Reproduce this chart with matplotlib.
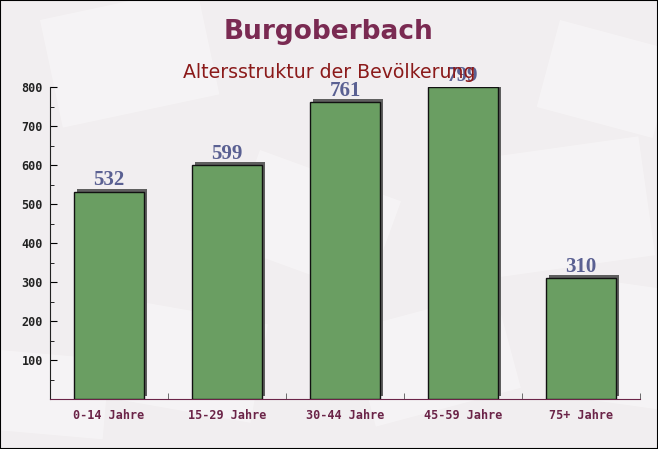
import matplotlib
matplotlib.use("Agg")
import matplotlib.pyplot as plt
import matplotlib.transforms as mtrans
from matplotlib.patches import Rectangle

categories = ["0-14 Jahre", "15-29 Jahre", "30-44 Jahre", "45-59 Jahre", "75+ Jahre"]
values = [532, 599, 761, 799, 310]
yticks = [100, 200, 300, 400, 500, 600, 700, 800]

fig = plt.figure(figsize=(6.58, 4.49), dpi=100)
fig.patch.set_facecolor("#f1eef0")

# faint background texture
bg = fig.add_axes([0, 0, 1, 1], zorder=-10)
bg.set_xlim(0, 658); bg.set_ylim(449, 0); bg.axis("off")
for (x, y, w, h, a) in [(40, 20, 160, 110, -12), (260, 150, 150, 100, 20), (470, 160, 170, 120, -8),
                        (130, 300, 140, 100, 10), (560, 20, 120, 90, 15), (350, 330, 150, 100, -15),
                        (0, 350, 110, 80, 5), (600, 280, 100, 120, 8)]:
    r = Rectangle((x, y), w, h, angle=a, facecolor="white", alpha=0.35, edgecolor="none")
    bg.add_patch(r)

ax = fig.add_axes([50/658, 1-399/449, 590/658, 312/449])
ax.set_facecolor("none")

x = list(range(len(categories)))
shadow = ax.transData + mtrans.ScaledTranslation(3/100, 3/100, fig.dpi_scale_trans)
ax.bar(x, values, width=0.6, color="#5f5f5f", edgecolor="none", transform=shadow, zorder=2)
ax.bar(x, values, width=0.6, color="#6a9e62", edgecolor="#111111", linewidth=1, zorder=3)

for xi, v in zip(x, values):
    ax.annotate(str(v), (xi, v), xytext=(0, 1), textcoords="offset points", ha="center", va="bottom",
                fontsize=15, fontweight="bold", family="Liberation Serif", color="#5a6092", zorder=4)

ax.set_xlim(-0.5, len(categories) - 0.5)
ax.set_ylim(0, 800)
ax.set_yticks(yticks)
ax.set_yticks(list(range(50, 800, 100)), minor=True)
ax.set_xticks([i + 0.5 for i in range(len(categories))], minor=True)
ax.set_xticks(x)
ax.set_xticklabels(categories)
ax.tick_params(axis="x", which="major", length=0, pad=7, labelsize=8.5, labelcolor="#6b2448")
ax.tick_params(axis="x", which="minor", length=4, direction="in", color="#555555")
ax.tick_params(axis="y", which="major", length=5, direction="in", labelsize=8.5, labelcolor="#222222", pad=5)
ax.tick_params(axis="y", which="minor", length=3, direction="in")
for lab in ax.get_xticklabels() + ax.get_yticklabels():
    lab.set_family("DejaVu Sans Mono")
    lab.set_fontweight("bold")
ax.spines["top"].set_visible(False)
ax.spines["right"].set_visible(False)
ax.spines["left"].set_color("#222222")
ax.spines["bottom"].set_color("#6b2448")

fig.text(0.5, 1-32/449, "Burgoberbach", ha="center", va="center", fontsize=19, fontweight="bold",
         color="#7a2a52", family="DejaVu Sans")
fig.text(0.5, 1-72/449, "Altersstruktur der Bevölkerung", ha="center", va="center", fontsize=13.6,
         color="#8b1a1a", family="DejaVu Sans")

fig.add_artist(Rectangle((0, 0), 1, 1, transform=fig.transFigure, fill=False, edgecolor="black", linewidth=1.5))

fig.savefig("out.png", dpi=100, facecolor=fig.get_facecolor())
